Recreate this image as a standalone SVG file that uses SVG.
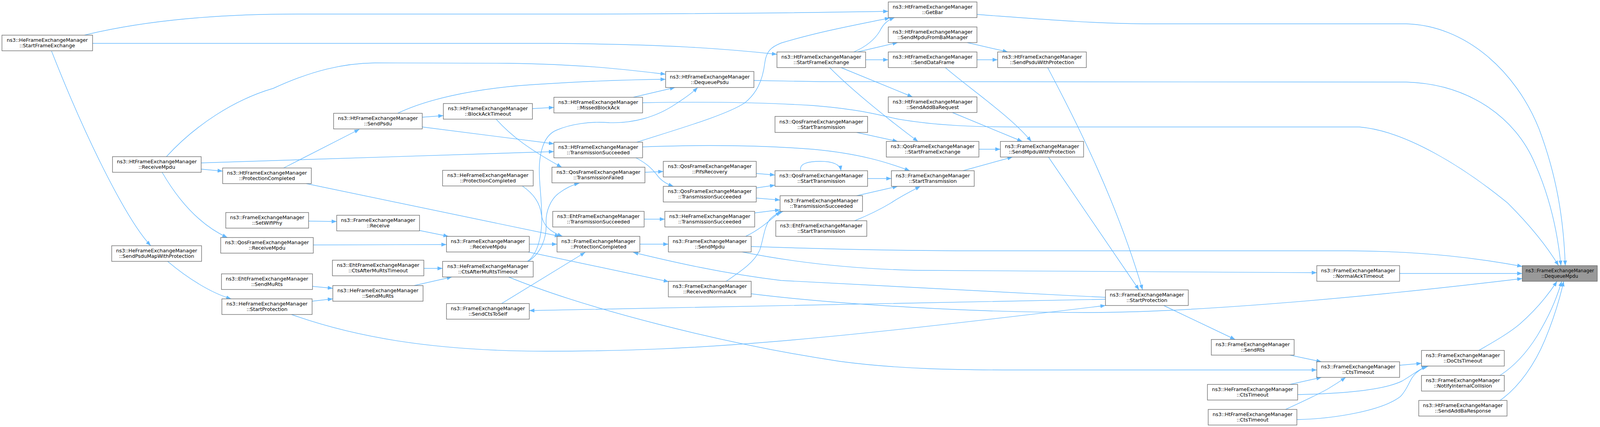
<svg xmlns="http://www.w3.org/2000/svg" width="4125" height="1093" viewBox="0 0 4125 1093" style="overflow:hidden">
<style>
.n rect{fill:#ffffff;stroke:#666666;stroke-width:1.33}
.r rect{fill:#999999;stroke:#666666;stroke-width:1.33}
text{font-family:"DejaVu Sans","Liberation Sans",sans-serif;font-size:12.8px;text-anchor:middle;fill:#000000}
.r text{font-size:11.8px}
.e path{fill:none;stroke:#63b8ff;stroke-width:1.4;marker-end:url(#a)}
</style>
<defs>
<marker id="a" viewBox="0 0 13 10" refX="13" refY="5" markerWidth="13" markerHeight="10" orient="auto" markerUnits="userSpaceOnUse"><path d="M0,0L13,5L0,10z" fill="#63b8ff"/></marker>
</defs>
<rect width="4125" height="1093" fill="#ffffff"/>
<g id="edges" class="e">
<path d="M216,90 C330,62 500,36 760,36 L1500,36 C1900,35 2100,32 2274,29"/>
<path d="M1630,364 C1720,335 1860,295 1907,263 C1935,240 1952,210 1958,160 C1962,130 1975,120 2000,110 C2100,80 2200,62 2278,46"/>
<path d="M2186,133 C2220,118 2240,100 2252,80 C2262,60 2272,52 2290,45"/>
<path d="M237,111 L1400,111 C1700,113 1850,124 1989,139"/>
<path d="M132,131 C230,380 330,570 386,629"/>
<path d="M426,401 C500,320 600,255 700,226 C800,180 880,162 960,161 L1300,162 C1500,165 1600,178 1704,190"/>
<path d="M515,417 L1418,388"/>
<path d="M1081,325 L1418,368"/>
<path d="M515,433 L570,438"/>
<path d="M415,441 C455,510 510,575 582,608"/>
<path d="M429,669 C480,712 540,750 592,765"/>
<path d="M1018,290 C1080,260 1200,225 1390,215 C1500,208 1600,204 1704,203"/>
<path d="M1081,300 L1135,296"/>
<path d="M726,430 L920,331"/>
<path d="M1363,278 L1418,275"/>
<path d="M1270,305 C1310,350 1360,385 1438,428"/>
<path d="M784,470 L1433,605"/>
<path d="M1355,625 L1426,625"/>
<path d="M1350,669 C1378,650 1387,600 1387,560 C1387,500 1378,460 1381,420 C1384,380 1395,345 1425,333 C1460,318 1510,310 1560,314 C1620,316 1680,300 1730,266 C1755,250 1772,238 1786,224"/>
<path d="M1352,669 C1385,648 1400,610 1398,570 C1397,540 1410,510 1430,495 C1450,480 1470,472 1483,469"/>
<path d="M1337,476 C1365,495 1383,520 1386,550 C1390,575 1405,592 1440,605"/>
<path d="M1352,645 L1712,721"/>
<path d="M1284,777 L1498,646"/>
<path d="M2830,766 C2500,770 1800,788 1355,795"/>
<path d="M1923,631 C2100,637 2300,642 2500,642 L3450,642 C3650,643 3790,662 3897,682"/>
<path d="M1900,645 C2000,665 2150,688 2350,692 L3371,698"/>
<path d="M2830,761 C2500,745 2150,728 2000,718 C1850,700 1720,670 1621,646"/>
<path d="M746,805 C900,860 1100,899 1400,899 C1800,899 2100,870 2830,782"/>
<path d="M1923,752 C2150,780 2500,800 2780,800 C3100,800 3590,750 3897,713"/>
<path d="M1909,605 C1940,590 1965,570 1998,541"/>
<path d="M1859,720 C1900,692 1932,670 1945,640 C1955,610 1956,580 1972,560 C1982,550 1992,545 2005,541"/>
<path d="M1932,545 L1997,537"/>
<path d="M1649,561 L1702,561"/>
<path d="M1638,625 L1711,625"/>
<path d="M1936,507 L1997,512"/>
<path d="M1936,481 L1984,474"/>
<path d="M1936,444 L1984,448"/>
<path d="M1651,441 L1698,439"/>
<path d="M1628,404 C1655,418 1670,432 1685,452 C1697,466 1710,472 1724,477"/>
<path d="M1645,376 C1800,370 1950,372 2080,382 C2200,393 2270,415 2329,437"/>
<path d="M1621,249 L1728,224"/>
<path d="M1645,263 C1800,260 1950,262 2080,270 C2200,280 2240,292 2300,305 C2400,322 2500,325 2600,325 L3480,325 C3600,335 3750,430 3860,520 C3920,580 3960,630 3990,680"/>
<path d="M1930,206 L2100,209 L3600,210 C3760,215 3880,300 3930,420 C3970,510 3988,600 3996,680"/>
<path d="M2193,339 L2298,362"/>
<path d="M2050,437 C2045,418 2070,413 2100,413 C2125,413 2150,418 2153,437"/>
<path d="M2221,457 L2282,457"/>
<path d="M2193,501 L2298,477"/>
<path d="M2188,565 C2220,552 2250,538 2280,520 C2310,500 2335,488 2356,477"/>
<path d="M2465,437 L2592,402"/>
<path d="M2506,382 L2561,382"/>
<path d="M2124,173 C2190,240 2300,325 2350,362"/>
<path d="M2153,173 L2336,248"/>
<path d="M2216,153 L2274,153"/>
<path d="M2195,133 L2298,109"/>
<path d="M2476,109 L2580,133"/>
<path d="M2501,153 L2554,153"/>
<path d="M2420,173 C2480,225 2590,300 2640,362"/>
<path d="M2438,288 L2617,362"/>
<path d="M2682,173 C2760,320 2860,520 2925,742"/>
<path d="M2684,402 L2916,742"/>
<path d="M2501,37 C2650,48 2800,61 2950,61 L3600,61 C3750,65 3880,180 3940,330 C3985,450 4003,560 4007,680"/>
<path d="M2979,782 L3162,869"/>
<path d="M3302,909 L3383,926"/>
<path d="M3302,984 L3383,966"/>
<path d="M3291,1048 C3330,1030 3370,1012 3400,995 C3420,983 3432,975 3445,966"/>
<path d="M3322,1010 C3420,1008 3540,1000 3590,975 C3615,960 3630,948 3652,937"/>
<path d="M3320,1074 C3420,1072 3540,1050 3585,1015 C3605,995 3608,970 3625,955 C3635,946 3645,940 3657,937"/>
<path d="M3583,935 L3639,930"/>
<path d="M3786,897 C3820,877 3860,855 3890,830 C3930,795 3960,760 3986,720"/>
<path d="M3840,961 C3880,935 3910,900 3935,860 C3965,810 3983,770 3998,720"/>
<path d="M3840,1025 C3890,990 3930,930 3955,870 C3980,810 3993,765 4003,720"/>
<path d="M3583,700 L3897,700"/>
<path d="M790,566 L862,567"/>
<path d="M1074,590 L1148,605"/>
<path d="M802,627 L1143,626"/>
<path d="M1085,687 L1133,687"/>
<path d="M1060,731 L1157,709"/>
<path d="M800,733 L852,738"/>
<path d="M799,771 L852,765"/>
<path d="M1302,709 C1500,790 1850,880 2150,925 C2300,945 2450,947 2600,947 L3371,947"/>
</g>
<g id="n_heSFE" class="n"><rect x="5" y="90" width="232" height="40"/><text x="121" y="107.3">ns3::HeFrameExchangeManager</text><text x="121" y="121.3">::StartFrameExchange</text></g>
<g id="n_htRM" class="n"><rect x="288" y="401" width="227" height="40"/><text x="401.5" y="418.3">ns3::HtFrameExchangeManager</text><text x="401.5" y="432.3">::ReceiveMpdu</text></g>
<g id="n_heSPMWP" class="n"><rect x="286" y="629" width="230" height="40"/><text x="401" y="646.3">ns3::HeFrameExchangeManager</text><text x="401" y="660.3">::SendPsduMapWithProtection</text></g>
<g id="n_htPC" class="n"><rect x="570" y="430" width="227" height="40"/><text x="683.5" y="447.3">ns3::HtFrameExchangeManager</text><text x="683.5" y="461.3">::ProtectionCompleted</text></g>
<g id="n_fSWP" class="n"><rect x="578" y="544" width="212" height="40"/><text x="684" y="561.3">ns3::FrameExchangeManager</text><text x="684" y="575.3">::SetWifiPhy</text></g>
<g id="n_qRM" class="n"><rect x="565" y="608" width="237" height="40"/><text x="683.5" y="625.3">ns3::QosFrameExchangeManager</text><text x="683.5" y="639.3">::ReceiveMpdu</text></g>
<g id="n_ehtSMR" class="n"><rect x="567" y="701" width="233" height="40"/><text x="683.5" y="718.3">ns3::EhtFrameExchangeManager</text><text x="683.5" y="732.3">::SendMuRts</text></g>
<g id="n_heSP" class="n"><rect x="568" y="765" width="231" height="40"/><text x="683.5" y="782.3">ns3::HeFrameExchangeManager</text><text x="683.5" y="796.3">::StartProtection</text></g>
<g id="n_htSP" class="n"><rect x="854" y="290" width="227" height="40"/><text x="967.5" y="307.3">ns3::HtFrameExchangeManager</text><text x="967.5" y="321.3">::SendPsdu</text></g>
<g id="n_fR" class="n"><rect x="862" y="551" width="212" height="40"/><text x="968" y="568.3">ns3::FrameExchangeManager</text><text x="968" y="582.3">::Receive</text></g>
<g id="n_ehtCAMRT" class="n"><rect x="851" y="666" width="234" height="40"/><text x="968" y="683.3">ns3::EhtFrameExchangeManager</text><text x="968" y="697.3">::CtsAfterMuRtsTimeout</text></g>
<g id="n_heSMR" class="n"><rect x="852" y="731" width="231" height="40"/><text x="967.5" y="748.3">ns3::HeFrameExchangeManager</text><text x="967.5" y="762.3">::SendMuRts</text></g>
<g id="n_htBAT" class="n"><rect x="1135" y="265" width="228" height="40"/><text x="1249" y="282.3">ns3::HtFrameExchangeManager</text><text x="1249" y="296.3">::BlockAckTimeout</text></g>
<g id="n_hePC" class="n"><rect x="1133" y="436" width="232" height="40"/><text x="1249" y="453.3">ns3::HeFrameExchangeManager</text><text x="1249" y="467.3">::ProtectionCompleted</text></g>
<g id="n_fRM" class="n"><rect x="1143" y="605" width="212" height="40"/><text x="1249" y="622.3">ns3::FrameExchangeManager</text><text x="1249" y="636.3">::ReceiveMpdu</text></g>
<g id="n_heCAMRT" class="n"><rect x="1133" y="669" width="232" height="40"/><text x="1249" y="686.3">ns3::HeFrameExchangeManager</text><text x="1249" y="700.3">::CtsAfterMuRtsTimeout</text></g>
<g id="n_fSCTS" class="n"><rect x="1143" y="777" width="212" height="40"/><text x="1249" y="794.3">ns3::FrameExchangeManager</text><text x="1249" y="808.3">::SendCtsToSelf</text></g>
<g id="n_htMBA" class="n"><rect x="1418" y="249" width="227" height="40"/><text x="1531.5" y="266.3">ns3::HtFrameExchangeManager</text><text x="1531.5" y="280.3">::MissedBlockAck</text></g>
<g id="n_htTS" class="n"><rect x="1418" y="364" width="227" height="40"/><text x="1531.5" y="381.3">ns3::HtFrameExchangeManager</text><text x="1531.5" y="395.3">::TransmissionSucceeded</text></g>
<g id="n_qTF" class="n"><rect x="1413" y="428" width="238" height="40"/><text x="1532" y="445.3">ns3::QosFrameExchangeManager</text><text x="1532" y="459.3">::TransmissionFailed</text></g>
<g id="n_ehtTS" class="n"><rect x="1415" y="541" width="234" height="40"/><text x="1532" y="558.3">ns3::EhtFrameExchangeManager</text><text x="1532" y="572.3">::TransmissionSucceeded</text></g>
<g id="n_fPC" class="n"><rect x="1426" y="605" width="212" height="40"/><text x="1532" y="622.3">ns3::FrameExchangeManager</text><text x="1532" y="636.3">::ProtectionCompleted</text></g>
<g id="n_htDP" class="n"><rect x="1704" y="183" width="226" height="41"/><text x="1817" y="200.6">ns3::HtFrameExchangeManager</text><text x="1817" y="214.6">::DequeuePsdu</text></g>
<g id="n_qPR" class="n"><rect x="1698" y="413" width="238" height="40"/><text x="1817" y="430.3">ns3::QosFrameExchangeManager</text><text x="1817" y="444.3">::PifsRecovery</text></g>
<g id="n_qTS" class="n"><rect x="1698" y="477" width="238" height="40"/><text x="1817" y="494.3">ns3::QosFrameExchangeManager</text><text x="1817" y="508.3">::TransmissionSucceeded</text></g>
<g id="n_heTS" class="n"><rect x="1702" y="541" width="230" height="40"/><text x="1817" y="558.3">ns3::HeFrameExchangeManager</text><text x="1817" y="572.3">::TransmissionSucceeded</text></g>
<g id="n_fSM" class="n"><rect x="1711" y="605" width="212" height="40"/><text x="1817" y="622.3">ns3::FrameExchangeManager</text><text x="1817" y="636.3">::SendMpdu</text></g>
<g id="n_fRNA" class="n"><rect x="1711" y="720" width="212" height="40"/><text x="1817" y="737.3">ns3::FrameExchangeManager</text><text x="1817" y="751.3">::ReceivedNormalAck</text></g>
<g id="n_htSFE" class="n"><rect x="1989" y="133" width="227" height="40"/><text x="2102.5" y="150.3">ns3::HtFrameExchangeManager</text><text x="2102.5" y="164.3">::StartFrameExchange</text></g>
<g id="n_qST1" class="n"><rect x="1984" y="298" width="237" height="41"/><text x="2102.5" y="315.6">ns3::QosFrameExchangeManager</text><text x="2102.5" y="329.6">::StartTransmission</text></g>
<g id="n_qST2" class="n"><rect x="1984" y="437" width="237" height="40"/><text x="2102.5" y="454.3">ns3::QosFrameExchangeManager</text><text x="2102.5" y="468.3">::StartTransmission</text></g>
<g id="n_fTS" class="n"><rect x="1997" y="501" width="211" height="40"/><text x="2102.5" y="518.3">ns3::FrameExchangeManager</text><text x="2102.5" y="532.3">::TransmissionSucceeded</text></g>
<g id="n_ehtST" class="n"><rect x="1986" y="565" width="233" height="40"/><text x="2102.5" y="582.3">ns3::EhtFrameExchangeManager</text><text x="2102.5" y="596.3">::StartTransmission</text></g>
<g id="n_htGB" class="n"><rect x="2274" y="5" width="227" height="40"/><text x="2387.5" y="22.3">ns3::HtFrameExchangeManager</text><text x="2387.5" y="36.3">::GetBar</text></g>
<g id="n_htSMFBM" class="n"><rect x="2274" y="69" width="227" height="40"/><text x="2387.5" y="86.3">ns3::HtFrameExchangeManager</text><text x="2387.5" y="100.3">::SendMpduFromBaManager</text></g>
<g id="n_htSDF" class="n"><rect x="2274" y="133" width="227" height="40"/><text x="2387.5" y="150.3">ns3::HtFrameExchangeManager</text><text x="2387.5" y="164.3">::SendDataFrame</text></g>
<g id="n_htSABR" class="n"><rect x="2274" y="248" width="227" height="40"/><text x="2387.5" y="265.3">ns3::HtFrameExchangeManager</text><text x="2387.5" y="279.3">::SendAddBaRequest</text></g>
<g id="n_qSFE" class="n"><rect x="2269" y="362" width="237" height="40"/><text x="2387.5" y="379.3">ns3::QosFrameExchangeManager</text><text x="2387.5" y="393.3">::StartFrameExchange</text></g>
<g id="n_fST" class="n"><rect x="2282" y="437" width="212" height="40"/><text x="2388" y="454.3">ns3::FrameExchangeManager</text><text x="2388" y="468.3">::StartTransmission</text></g>
<g id="n_htSPWP" class="n"><rect x="2554" y="133" width="227" height="40"/><text x="2667.5" y="150.3">ns3::HtFrameExchangeManager</text><text x="2667.5" y="164.3">::SendPsduWithProtection</text></g>
<g id="n_fSMWP" class="n"><rect x="2561" y="362" width="213" height="40"/><text x="2667.5" y="379.3">ns3::FrameExchangeManager</text><text x="2667.5" y="393.3">::SendMpduWithProtection</text></g>
<g id="n_fSP" class="n"><rect x="2830" y="742" width="212" height="40"/><text x="2936" y="759.3">ns3::FrameExchangeManager</text><text x="2936" y="773.3">::StartProtection</text></g>
<g id="n_fSR" class="n"><rect x="3101" y="869" width="212" height="40"/><text x="3207" y="886.3">ns3::FrameExchangeManager</text><text x="3207" y="900.3">::SendRts</text></g>
<g id="n_heCT" class="n"><rect x="3091" y="984" width="231" height="40"/><text x="3206.5" y="1001.3">ns3::HeFrameExchangeManager</text><text x="3206.5" y="1015.3">::CtsTimeout</text></g>
<g id="n_htCT" class="n"><rect x="3093" y="1048" width="227" height="40"/><text x="3206.5" y="1065.3">ns3::HtFrameExchangeManager</text><text x="3206.5" y="1079.3">::CtsTimeout</text></g>
<g id="n_fNAT" class="n"><rect x="3371" y="680" width="212" height="40"/><text x="3477" y="697.3">ns3::FrameExchangeManager</text><text x="3477" y="711.3">::NormalAckTimeout</text></g>
<g id="n_fCT" class="n"><rect x="3371" y="926" width="212" height="40"/><text x="3477" y="943.3">ns3::FrameExchangeManager</text><text x="3477" y="957.3">::CtsTimeout</text></g>
<g id="n_fDCT" class="n"><rect x="3639" y="897" width="212" height="40"/><text x="3745" y="914.3">ns3::FrameExchangeManager</text><text x="3745" y="928.3">::DoCtsTimeout</text></g>
<g id="n_fNIC" class="n"><rect x="3639" y="961" width="212" height="40"/><text x="3745" y="978.3">ns3::FrameExchangeManager</text><text x="3745" y="992.3">::NotifyInternalCollision</text></g>
<g id="n_htSABResp" class="n"><rect x="3632" y="1025" width="226" height="40"/><text x="3745" y="1042.3">ns3::HtFrameExchangeManager</text><text x="3745" y="1056.3">::SendAddBaResponse</text></g>
<g id="n_root" class="r"><rect x="3897" y="680" width="192" height="40"/><text x="3993" y="697.3">ns3::FrameExchangeManager</text><text x="3993" y="711.3">::DequeueMpdu</text></g>
</svg>
